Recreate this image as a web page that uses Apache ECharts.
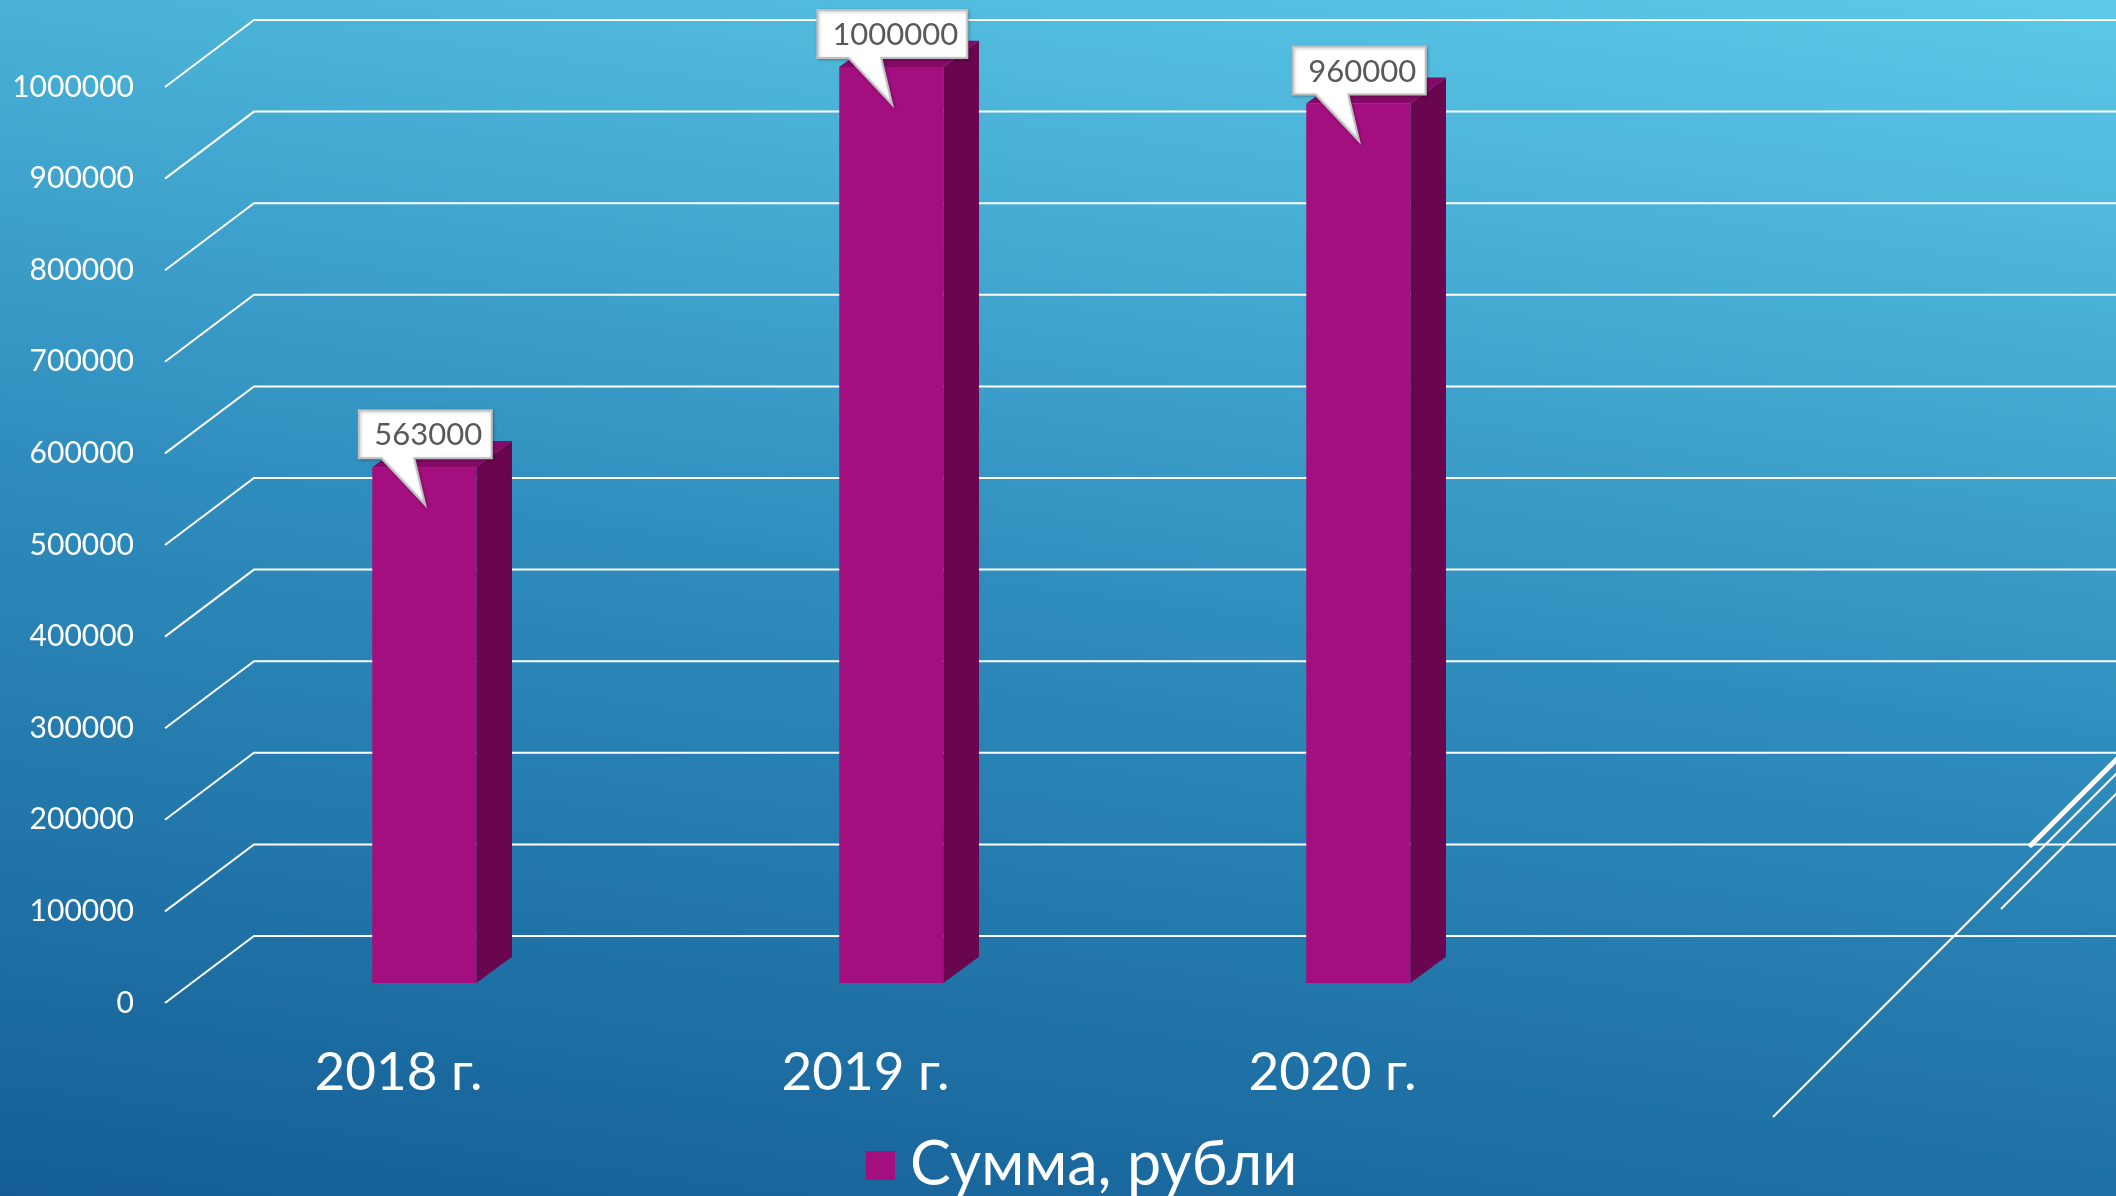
<!DOCTYPE html>
<html>
<head>
<meta charset="utf-8">
<script src="https://cdn.jsdelivr.net/npm/echarts@6/dist/echarts.min.js"></script>
<style>
	html, body { margin: 0; padding: 0; }
	body { background: linear-gradient(8deg, #145e95 0%, #2f8dbd 50%, #5ccae8 100%); }
	#chart { width: 2116px; height: 1196px; }
</style>
</head>
<body>
<div id="chart"></div>
<script>
'use strict';
var categories = ['2018 г.', '2019 г.', '2020 г.', ''],
		sums = [563000, 1000000, 960000],
		yTicks = [0, 100000, 200000, 300000, 400000, 500000, 600000, 700000, 800000, 900000, 1000000],
		seriesName = 'Сумма, рубли';

var FONT = 'Lato, "Open Sans", sans-serif',
		// depth of the 3d box (front plane -> back wall)
		depthX = 89,
		depthY = 67;

var chart = echarts.init(document.getElementById('chart'));

function renderWall(params, api) {
	var cs = params.coordSys,
			y = api.coord([0, api.value(1)])[1];

	return {
		type: 'polyline',
		shape: {
			points: [[cs.x, y], [cs.x + depthX, y - depthY], [2140, y - depthY]]
		},
		style: { stroke: '#ffffff', lineWidth: 2, fill: null },
		silent: true
	};
}

function renderBar(params, api) {
	var idx = api.value(0),
			val = api.value(1),
			base = api.coord([idx, 0]),
			top = api.coord([idx, val]),
			band = api.size([1, 0])[0],
			w = band * 0.223,
			ox = depthX * 0.29, oy = depthY * 0.3,
			sx = depthX * 0.4, sy = depthY * 0.39;

	var x0 = base[0] + ox - w / 2,
			x1 = x0 + w,
			yT = top[1] - oy,
			yB = base[1] - oy;

	// callout with the value
	var text = String(val),
			tx = base[0] + ox + 1,
			ty = yT + 38,
			bw = 17 * text.length + 31,
			bL = tx - bw / 2, bR = bL + bw,
			bB = ty - 47, bT = bB - 48;

	return {
		type: 'group',
		children: [
			{
				type: 'polygon',
				shape: { points: [[x1, yT], [x1 + sx, yT - sy], [x1 + sx, yB - sy], [x1, yB]] },
				style: { fill: '#69064f' }
			},
			{
				type: 'polygon',
				shape: { points: [[x0, yT], [x0 + sx, yT - sy], [x1 + sx, yT - sy], [x1, yT]] },
				style: { fill: '#840a66' }
			},
			{
				type: 'rect',
				shape: { x: x0, y: yT, width: w, height: yB - yT },
				style: { fill: '#a30f7f' }
			},
			{
				type: 'polygon',
				shape: {
					points: [[bL, bT], [bR, bT], [bR, bB], [tx - 11, bB], [tx, ty], [tx - 44, bB], [bL, bB]]
				},
				style: {
					fill: '#ffffff', stroke: '#bfbfbf', lineWidth: 2,
					shadowBlur: 3, shadowColor: 'rgba(0,0,0,0.25)', shadowOffsetX: 1, shadowOffsetY: 1
				}
			},
			{
				type: 'text',
				x: (bL + bR) / 2 + 3,
				y: (bT + bB) / 2 + 1,
				style: {
					text: text, fill: '#595959', font: '31px ' + FONT,
					align: 'center', verticalAlign: 'middle'
				}
			}
		]
	};
}

var options = {
	animation: false,
	textStyle: { fontFamily: FONT },
	grid: { left: 165, right: 83, top: 87, bottom: 193 },
	legend: {
		left: 861,
		top: 1130,
		itemWidth: 29,
		itemHeight: 29,
		itemGap: 16,
		textStyle: { color: '#ffffff', fontSize: 61, fontFamily: FONT, padding: [0, 0, 0, 10] },
		data: [{ name: seriesName, icon: 'rect' }]
	},
	xAxis: {
		type: 'category',
		data: categories,
		axisLine: { show: false },
		axisTick: { show: false },
		splitLine: { show: false },
		axisLabel: { color: '#ffffff', fontSize: 53, margin: 43, interval: 0 }
	},
	yAxis: {
		type: 'value',
		min: 0,
		max: 1000000,
		interval: 100000,
		axisLine: { show: false },
		axisTick: { show: false },
		splitLine: { show: false },
		axisLabel: {
			color: '#ffffff', fontSize: 30, margin: 31,
			formatter: function (v) { return String(v); }
		}
	},
	series: [
		{
			name: 'wall',
			type: 'custom',
			z: 1,
			silent: true,
			renderItem: renderWall,
			data: yTicks.map(function (v) { return [0, v]; })
		},
		{
			name: seriesName,
			type: 'custom',
			z: 3,
			itemStyle: { color: '#a30f7f' },
			renderItem: renderBar,
			encode: { x: 0, y: 1 },
			data: sums.map(function (v, i) { return [i, v]; })
		}
	],
	graphic: [
		{ type: 'line', shape: { x1: 1773, y1: 1117, x2: 2120, y2: 770 }, style: { stroke: '#ffffff', lineWidth: 2 } },
		{ type: 'line', shape: { x1: 2001, y1: 909, x2: 2120, y2: 790 }, style: { stroke: '#ffffff', lineWidth: 2 } },
		{ type: 'line', shape: { x1: 2031, y1: 845, x2: 2120, y2: 756 }, style: { stroke: '#ffffff', lineWidth: 5, lineCap: 'round' } }
	]
};

chart.setOption(options);
</script>
</body>
</html>
